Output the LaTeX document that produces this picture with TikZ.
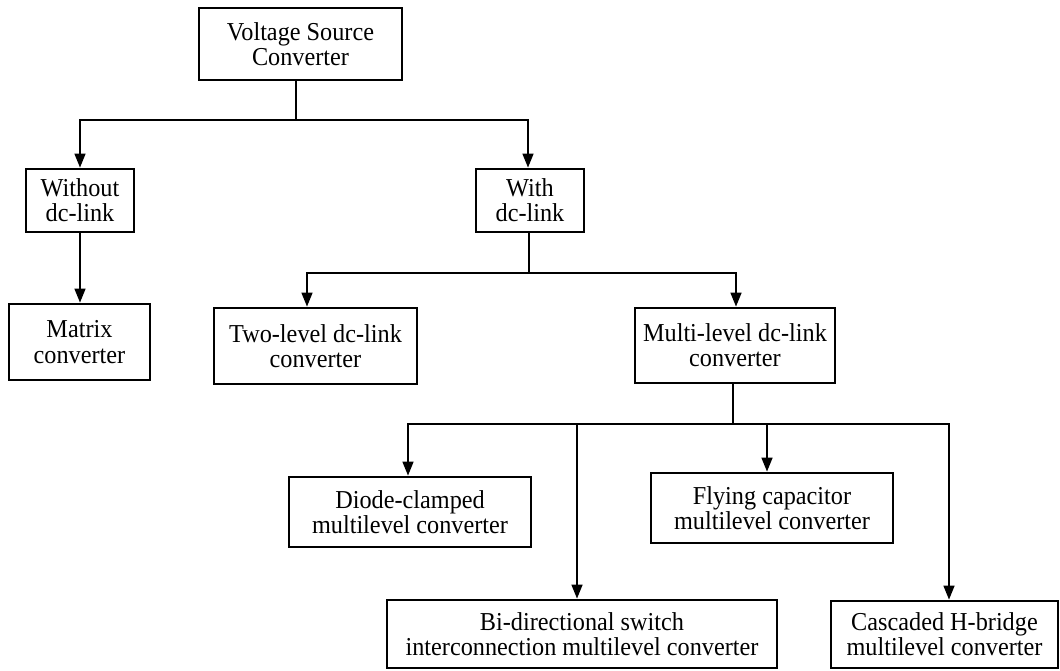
\documentclass[tikz,border=0pt]{standalone}
\usepackage{fontspec}
\setmainfont{Liberation Serif}[FakeStretch=0.94]
\usetikzlibrary{arrows.meta}
\begin{document}
\begin{tikzpicture}[x=0.5pt,y=-0.5pt]
	\tikzset{box/.style = {draw, line width=1.35pt, align=center, inner sep=0pt, font=\fontsize{12.9}{12.6}\selectfont}}
	\tikzset{line/.style = {line width=1pt, line cap=rect}}
	\tikzset{arr/.style = {line, -{Triangle[length=7pt,width=5.4pt]}}}
	\useasboundingbox (0,0) rectangle (1060,670);
	\node[box, minimum width=101.5pt, minimum height=36pt] (vsc) at (300.5,44) {Voltage Source\\Converter};
	\node[box, minimum width=54pt, minimum height=31.5pt] (without) at (80,200.5) {Without\\dc-link};
	\node[box, minimum width=54pt, minimum height=31.5pt] (with) at (530,200.5) {With\\dc-link};
	\node[box, minimum width=70.5pt, minimum height=38pt] (matrix) at (79.5,342) {Matrix\\converter};
	\node[box, minimum width=101.5pt, minimum height=38pt] (twolevel) at (315.5,346) {Two-level dc-link\\converter};
	\node[box, minimum width=100pt, minimum height=37.5pt] (multilevel) at (735,345.5) {Multi-level dc-link\\converter};
	\node[box, minimum width=121pt, minimum height=35pt] (diode) at (410,512) {Diode-clamped\\multilevel converter};
	\node[box, minimum width=121pt, minimum height=35pt] (flying) at (772,508) {Flying capacitor\\multilevel converter};
	\node[box, minimum width=195pt, minimum height=34pt] (bidir) at (582,634) {Bi-directional switch\\interconnection multilevel converter};
	\node[box, minimum width=113.5pt, minimum height=33.5pt] (cascaded) at (944.5,634.5) {Cascaded H-bridge\\multilevel converter};
	% first split
	\coordinate (j1) at (296,120);
	\coordinate (w1) at (528,120);
	\draw[line] (j1 |- vsc.south) -- (j1);
	\draw[arr] (j1) -| (without.north);
	\draw[arr] (j1) -- (w1) -- (w1 |- with.north);
	\draw[arr] (without.south) -- (without.south |- matrix.north);
	% dc-link split
	\coordinate (j2) at (529,273);
	\coordinate (t2) at (307,273);
	\coordinate (m2) at (736,273);
	\draw[line] (j2 |- with.south) -- (j2);
	\draw[arr] (j2) -- (t2) -- (t2 |- twolevel.north);
	\draw[arr] (j2) -- (m2) -- (m2 |- multilevel.north);
	% multilevel split
	\coordinate (j3) at (733,424);
	\coordinate (d1) at (408,424);
	\coordinate (d2) at (577,424);
	\coordinate (d3) at (767,424);
	\coordinate (d4) at (949,424);
	\draw[line] (j3 |- multilevel.south) -- (j3);
	\draw[line] (d1) -- (d4);
	\foreach \t/\n in {d1/diode, d2/bidir, d3/flying, d4/cascaded}
		\draw[arr] (\t) -- (\t |- \n.north);
\end{tikzpicture}
\end{document}
